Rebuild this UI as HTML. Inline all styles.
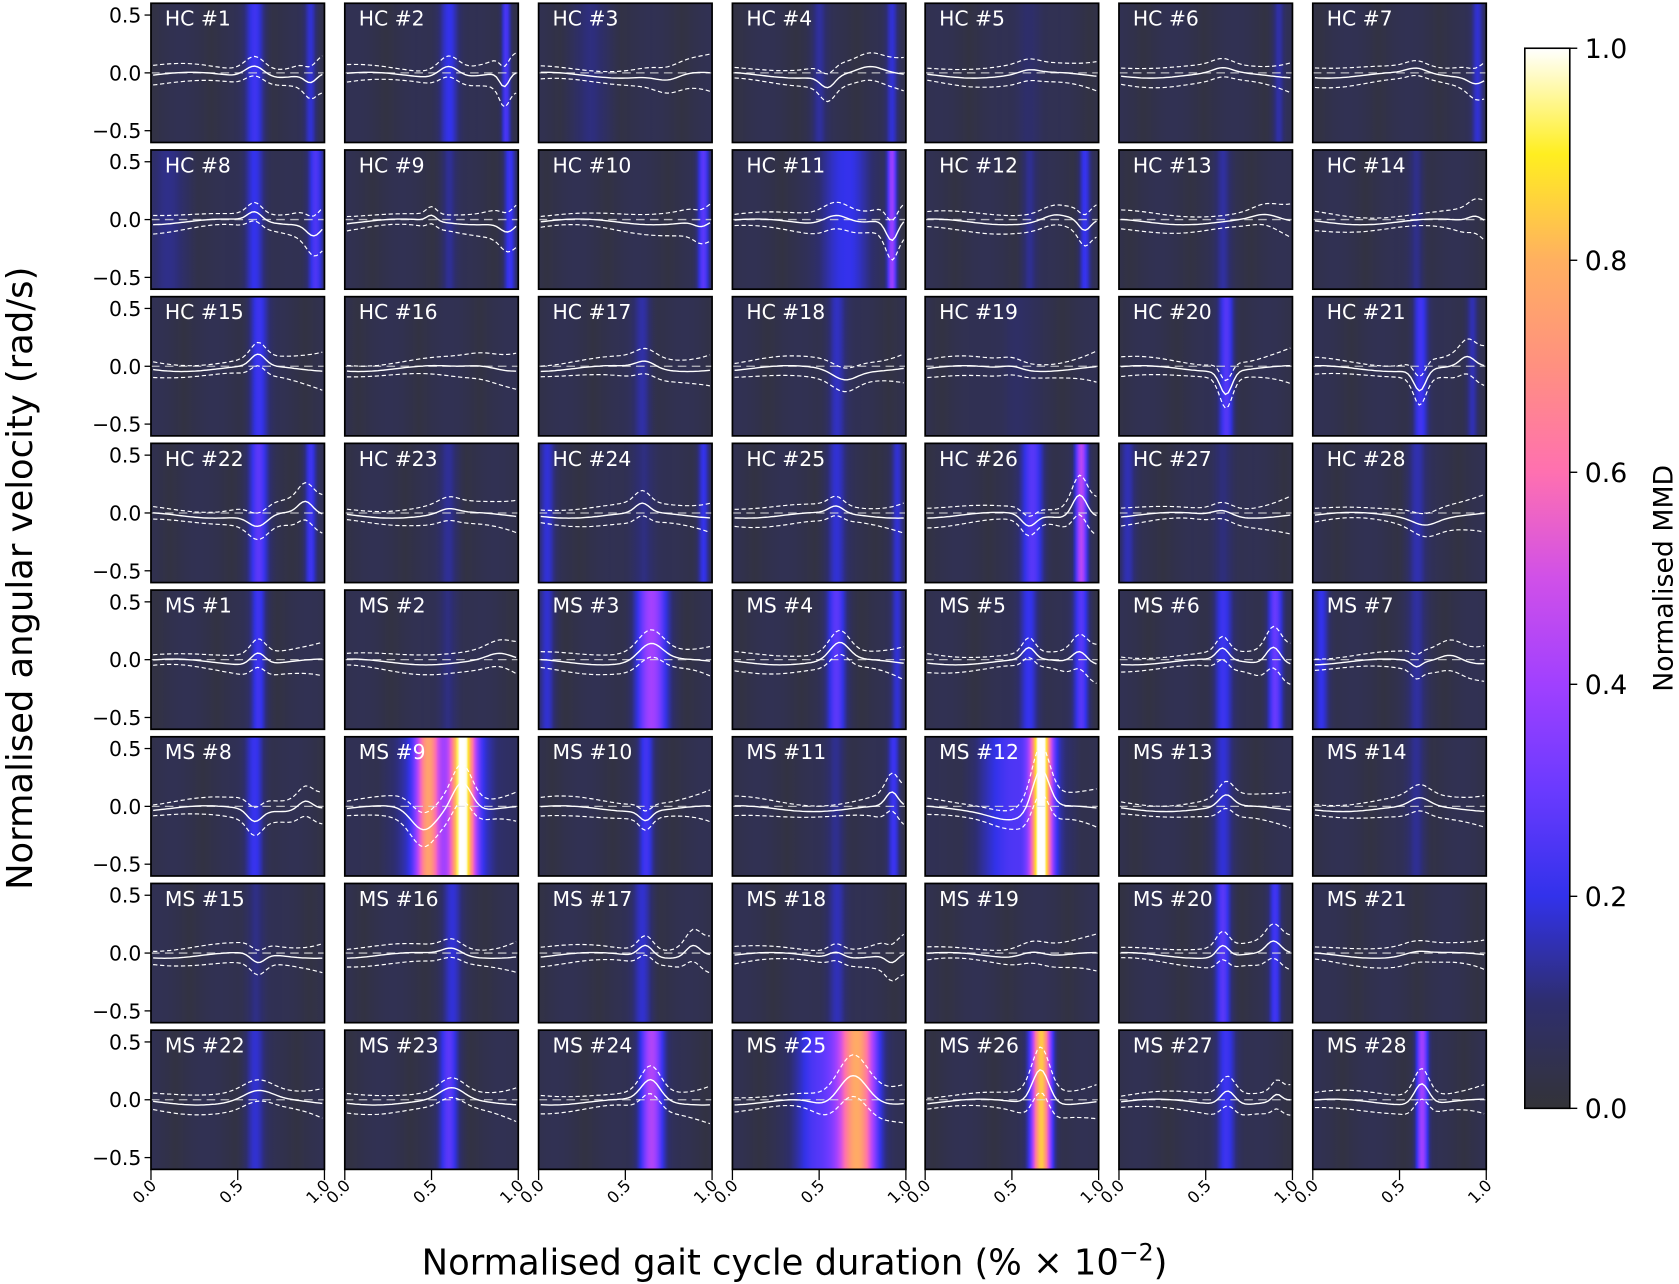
<!DOCTYPE html>
<html><head><meta charset="utf-8">
<style>html,body{margin:0;padding:0;background:#fff;}svg{display:block}</style>
</head><body>
<svg id="s" xmlns="http://www.w3.org/2000/svg" width="1679" height="1284" viewBox="0 0 1568 1199" font-family="'DejaVu Sans','Liberation Sans',sans-serif"></svg>
<script>
const NS="http://www.w3.org/2000/svg";
const cm=[[0,[51,51,56]],[0.1,[46,46,110]],[0.2,[50,50,235]],[0.3,[106,58,255]],[0.4,[160,64,255]],[0.5,[208,80,232]],[0.6,[255,112,176]],[0.7,[255,144,128]],[0.8,[255,176,96]],[0.9,[255,238,32]],[1,[255,255,255]]];
function col(v){v=Math.max(0,Math.min(1,v));for(let i=1;i<cm.length;i++){if(v<=cm[i][0]){const a=cm[i-1],b=cm[i];const t=(v-a[0])/(b[0]-a[0]);return 'rgb('+a[1].map((c,k)=>Math.round(c+(b[1][k]-c)*t)).join(',')+')';}}return 'rgb(255,255,255)';}
const g=(x,c,w)=>Math.exp(-((x-c)*(x-c))/(2*w*w));
const P=[
[[[0.6,0.2,0.025],[0.92,0.15,0.015]],[[0.6,0.1,0.04],[0.93,-0.07,0.025]]],
[[[0.6,0.2,0.025],[0.93,0.25,0.012]],[[0.6,0.1,0.04],[0.93,-0.12,0.02]]],
[[[0.3,0.07,0.05]],[[0.75,-0.05,0.05]]],
[[[0.5,0.1,0.02],[0.92,0.15,0.015]],[[0.55,-0.1,0.03],[0.8,0.05,0.05]]],
[[[0.6,0.08,0.03]],[[0.6,0.03,0.04]]],
[[[0.92,0.12,0.015]],[[0.6,0.04,0.04]]],
[[[0.95,0.15,0.015]],[[0.6,0.04,0.04],[0.95,-0.05,0.03]]],
[[[0.6,0.2,0.025],[0.95,0.25,0.02],[0.1,0.08,0.06]],[[0.6,0.08,0.03],[0.95,-0.1,0.03]]],
[[[0.6,0.1,0.02],[0.95,0.2,0.015]],[[0.5,0.05,0.02],[0.95,-0.08,0.03]]],
[[[0.95,0.25,0.015]],[[0.95,-0.05,0.03]]],
[[[0.65,0.2,0.06],[0.92,0.4,0.012]],[[0.6,0.08,0.05],[0.93,-0.18,0.025]]],
[[[0.6,0.1,0.02],[0.92,0.2,0.015]],[[0.75,0.05,0.05],[0.93,-0.1,0.025]]],
[[[0.6,0.1,0.02]],[[0.85,0.04,0.05]]],
[[[0.6,0.1,0.02]],[[0.95,0.05,0.03]]],
[[[0.62,0.2,0.025]],[[0.62,0.1,0.03]]],
[[],[[0.8,0.03,0.06]]],
[[[0.6,0.12,0.025]],[[0.62,0.06,0.04]]],
[[[0.6,0.15,0.025]],[[0.65,-0.08,0.05]]],
[[[0.5,0.05,0.05]],[[0.5,0.03,0.04]]],
[[[0.62,0.25,0.02]],[[0.62,-0.2,0.025]]],
[[[0.62,0.22,0.02],[0.92,0.15,0.015]],[[0.62,-0.18,0.025],[0.9,0.08,0.03]]],
[[[0.62,0.25,0.025],[0.92,0.2,0.015]],[[0.62,-0.1,0.04],[0.9,0.1,0.03]]],
[[[0.6,0.1,0.025]],[[0.6,0.04,0.04]]],
[[[0.05,0.15,0.02],[0.95,0.2,0.015],[0.6,0.1,0.03]],[[0.6,0.08,0.03]]],
[[[0.6,0.15,0.025],[0.95,0.15,0.015]],[[0.6,0.06,0.03]]],
[[[0.62,0.25,0.03],[0.9,0.45,0.015]],[[0.6,-0.1,0.03],[0.9,0.2,0.03]]],
[[[0.05,0.12,0.02],[0.6,0.1,0.025]],[[0.6,0.05,0.04]]],
[[[0.6,0.12,0.025]],[[0.65,-0.06,0.05]]],
[[[0.62,0.2,0.02]],[[0.62,0.1,0.03]]],
[[[0.6,0.1,0.025]],[[0.9,0.05,0.05]]],
[[[0.65,0.4,0.04],[0.05,0.15,0.02]],[[0.65,0.15,0.05]]],
[[[0.6,0.25,0.025],[0.95,0.15,0.015]],[[0.62,0.15,0.04]]],
[[[0.6,0.2,0.025],[0.9,0.25,0.02]],[[0.6,0.1,0.025],[0.9,0.1,0.03]]],
[[[0.6,0.2,0.025],[0.9,0.3,0.02]],[[0.6,0.1,0.025],[0.9,0.15,0.03]]],
[[[0.05,0.2,0.02],[0.6,0.1,0.025]],[[0.6,-0.05,0.02],[0.8,0.08,0.05]]],
[[[0.6,0.2,0.025]],[[0.6,-0.1,0.03],[0.9,0.08,0.03]]],
[[[0.48,0.6,0.03],[0.68,0.9,0.03],[0.6,0.25,0.12]],[[0.45,-0.18,0.05],[0.68,0.25,0.04]]],
[[[0.62,0.2,0.02]],[[0.62,-0.08,0.025]]],
[[[0.6,0.1,0.025],[0.93,0.2,0.015]],[[0.93,0.12,0.025]]],
[[[0.67,1.0,0.025],[0.55,0.25,0.1]],[[0.5,-0.08,0.08],[0.67,0.35,0.035]]],
[[[0.6,0.15,0.025]],[[0.62,0.1,0.03]]],
[[[0.6,0.1,0.025]],[[0.62,0.07,0.04]]],
[[[0.6,0.1,0.025]],[[0.62,-0.08,0.03]]],
[[[0.62,0.15,0.025]],[[0.62,0.06,0.04]]],
[[[0.6,0.15,0.025]],[[0.62,0.1,0.03],[0.9,0.1,0.03]]],
[[[0.6,0.15,0.025]],[[0.6,0.05,0.03],[0.93,-0.07,0.025]]],
[[],[[0.62,0.05,0.05]]],
[[[0.6,0.25,0.02],[0.9,0.2,0.015]],[[0.6,0.1,0.025],[0.9,0.1,0.03]]],
[[],[[0.6,0.03,0.05]]],
[[[0.6,0.15,0.025]],[[0.62,0.08,0.06]]],
[[[0.6,0.25,0.025]],[[0.62,0.1,0.05]]],
[[[0.65,0.45,0.03]],[[0.65,0.18,0.04]]],
[[[0.5,0.25,0.06],[0.72,0.8,0.05]],[[0.55,-0.05,0.06],[0.7,0.25,0.06]]],
[[[0.67,0.9,0.025]],[[0.67,0.3,0.035]]],
[[[0.62,0.22,0.025]],[[0.63,0.12,0.03],[0.92,0.06,0.02]]],
[[[0.63,0.4,0.015]],[[0.63,0.18,0.03]]]
];
const svg=document.getElementById('s');let h='';let defs='';
const cx=[141,322,503,684,864,1045,1226],W=162,ry=(r)=>3+137*r,H=130;
for(let i=0;i<56;i++){
 const c=i%7,r=Math.floor(i/7);const x0=cx[c],y0=ry(r);
 const [bands,bumps]=P[i];
 let st='';
 for(let k=0;k<=80;k++){const x=k/80;let v=0.02+0.03*Math.abs(Math.sin(x*9+i));for(const b of bands)v+=b[1]*0.9*g(x,b[0],b[2]*1.6);st+=`<stop offset="${x}" stop-color="${col(v)}"/>`;}
 defs+=`<linearGradient id="g${i}" x1="0" x2="1" y1="0" y2="0">${st}</linearGradient>`;
 h+=`<rect x="${x0}" y="${y0}" width="${W}" height="${H}" fill="url(#g${i})"/>`;
 const Y=v=>y0+H/2-v*108;
 let m='',u='',l='';
 for(let k=0;k<=60;k++){const x=k/60;let v=0.025*Math.sin(x*7+i*0.7)-0.02;let s=0.065+0.02*Math.cos(x*5+i);
  for(const b of bumps){v+=b[1]*g(x,b[0],b[2]*1.4);s+=Math.abs(b[1])*0.35*g(x,b[0],b[2]*2);}
  s+=0.08*x**6;
  const X=(x0+2+x*(W-4)).toFixed(1);
  m+=(k?'L':'M')+X+','+Y(v).toFixed(1);u+=(k?'L':'M')+X+','+Y(v+s).toFixed(1);l+=(k?'L':'M')+X+','+Y(v-s).toFixed(1);}
 h+=`<line x1="${x0}" x2="${x0+W}" y1="${Y(0)}" y2="${Y(0)}" stroke="#ddd" stroke-width="1.2" stroke-dasharray="8,5" opacity="0.8"/>`;
 h+=`<path d="${m}" fill="none" stroke="#fff" stroke-width="1.3"/><path d="${u}" fill="none" stroke="#fff" stroke-width="1.1" stroke-dasharray="4,2.5"/><path d="${l}" fill="none" stroke="#fff" stroke-width="1.1" stroke-dasharray="4,2.5"/>`;
 h+=`<rect x="${x0}" y="${y0}" width="${W}" height="${H}" fill="none" stroke="#000" stroke-width="1.6"/>`;
 const lab=(i<28?'HC #'+(i+1):'MS #'+(i-27));
 h+=`<text x="${x0+13}" y="${y0+21}" font-size="19" fill="#fff">${lab}</text>`;
 if(c==0){for(const [v,t] of [[0.5,'0.5'],[0,'0.0'],[-0.5,'\u22120.5']]){h+=`<line x1="${x0-6}" x2="${x0}" y1="${Y(v)}" y2="${Y(v)}" stroke="#000" stroke-width="1.2"/><text x="${x0-9}" y="${Y(v)+7}" font-size="19" text-anchor="end">${t}</text>`;}}
 if(r==7){for(const [v,t] of [[0,'0.0'],[0.5,'0.5'],[1,'1.0']]){const X=x0+v*W;h+=`<line x1="${X}" x2="${X}" y1="${y0+H}" y2="${y0+H+10}" stroke="#000" stroke-width="1.2"/><text transform="translate(${X+6},${y0+H+16}) rotate(-45)" font-size="15" text-anchor="end">${t}</text>`;}}
}
let cs='';for(let k=0;k<=20;k++){cs+=`<stop offset="${k/20}" stop-color="${col(1-k/20)}"/>`;}
defs+=`<linearGradient id="cb" x1="0" x2="0" y1="0" y2="1">${cs}</linearGradient>`;
h+=`<rect x="1424" y="45" width="42" height="990" fill="url(#cb)" stroke="#000" stroke-width="1.5"/>`;
for(let k=0;k<=5;k++){const y=1035-k*198;h+=`<line x1="1466" x2="1473" y1="${y}" y2="${y}" stroke="#000" stroke-width="1.3"/><text x="1480" y="${y+9}" font-size="25">${(k/5).toFixed(1)}</text>`;}
h+=`<text transform="translate(1562,540) rotate(-90)" font-size="25" text-anchor="middle">Normalised MMD</text>`;
h+=`<text transform="translate(30,540) rotate(-90)" font-size="33" text-anchor="middle">Normalised angular velocity (rad/s)</text>`;
h+=`<text x="742" y="1190" font-size="33" text-anchor="middle">Normalised gait cycle duration (% \u00d7 10<tspan dy="-13" font-size="22">\u22122</tspan><tspan dy="13">)</tspan></text>`;
svg.innerHTML='<defs>'+defs+'</defs>'+h;
</script>
</body></html>
